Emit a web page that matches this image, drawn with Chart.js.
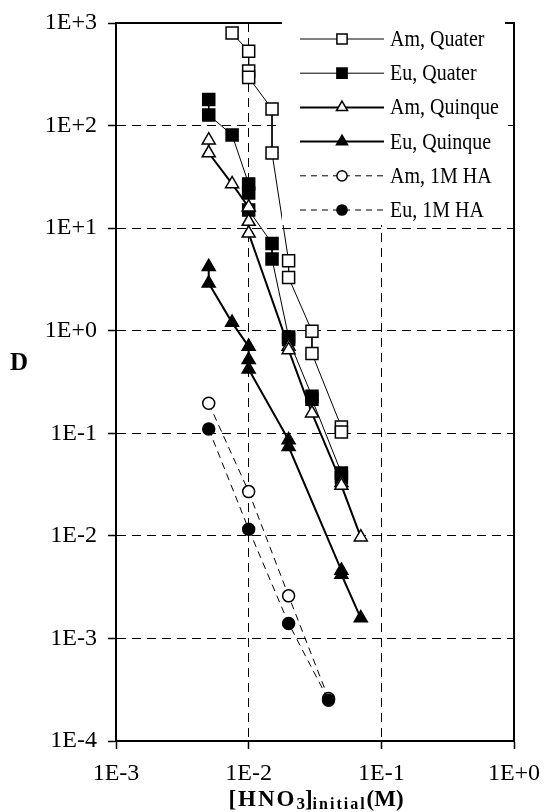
<!DOCTYPE html>
<html><head><meta charset="utf-8">
<script src="https://cdn.jsdelivr.net/npm/chart.js@4.4.1/dist/chart.umd.min.js"></script>
<style>html,body{margin:0;padding:0;background:#fff}canvas{display:block}</style>
</head><body>
<canvas id="c" width="544" height="812"></canvas>
<script>
// ---- data ----
const seriesNames = ['Am, Quater', 'Eu, Quater', 'Am, Quinque', 'Eu, Quinque', 'Am, 1M HA', 'Eu, 1M HA'];

const amQuaterX = [0.0075, 0.01, 0.01, 0.01, 0.015, 0.015, 0.02, 0.02, 0.03, 0.03, 0.05, 0.05];
const amQuaterY = [800, 530, 340, 295, 145, 54, 4.8, 3.3, 0.99, 0.6, 0.115, 0.103];

const euQuaterX = [0.005, 0.005, 0.0075, 0.01, 0.01, 0.01, 0.015, 0.015, 0.02, 0.02, 0.03, 0.03, 0.05, 0.05];
const euQuaterY = [180, 127, 81, 27, 22, 15, 7.1, 5.0, 0.87, 0.82, 0.23, 0.215, 0.041, 0.037];

const amQuinqueX = [0.005, 0.005, 0.0075, 0.01, 0.01, 0.01, 0.02, 0.02, 0.03, 0.05, 0.05, 0.07];
const amQuinqueY = [72, 54, 27, 16, 11.6, 8.9, 0.7, 0.65, 0.157, 0.033, 0.031, 0.0097];

const euQuinqueX = [0.005, 0.005, 0.0075, 0.01, 0.01, 0.01, 0.02, 0.02, 0.05, 0.05, 0.07];
const euQuinqueY = [4.2, 2.9, 1.2, 0.70, 0.52, 0.42, 0.086, 0.074, 0.0046, 0.0042, 0.00158];

const amHAX = [0.005, 0.01, 0.02, 0.04];
const amHAY = [0.196, 0.027, 0.0026, 0.00026];

const euHAX = [0.005, 0.01, 0.02, 0.04];
const euHAY = [0.11, 0.0116, 0.0014, 0.00025];

const xTickValues = [0.001, 0.01, 0.1, 1];
const xTickLabels = ['1E-3', '1E-2', '1E-1', '1E+0'];
const yTickValues = [1e-4, 1e-3, 1e-2, 1e-1, 1, 10, 100, 1000];
const yTickLabels = ['1E-4', '1E-3', '1E-2', '1E-1', '1E+0', '1E+1', '1E+2', '1E+3'];

const xTitle = ['[HNO', '3', ']', 'initial', '(M)'];
const yTitle = 'D';

// ---- build ----
function pts(xs, ys) { return xs.map((x, i) => ({ x: x, y: ys[i] })); }
const seriesData = [
  pts(amQuaterX, amQuaterY), pts(euQuaterX, euQuaterY),
  pts(amQuinqueX, amQuinqueY), pts(euQuinqueX, euQuinqueY),
  pts(amHAX, amHAY), pts(euHAX, euHAY)
];
const looks = [
  { ps: 'rect', fill: '#fff', r: 8.5, lw: 1, dash: [] },
  { ps: 'rect', fill: '#000', r: 8.5, lw: 1, dash: [] },
  { ps: 'triangle', fill: '#fff', r: 7.5, lw: 2, dash: [] },
  { ps: 'triangle', fill: '#000', r: 7.5, lw: 2, dash: [] },
  { ps: 'circle', fill: '#fff', r: 6, lw: 1, dash: [7, 5] },
  { ps: 'circle', fill: '#000', r: 6, lw: 1, dash: [7, 5] }
];

const datasets = seriesNames.map((name, i) => ({
  label: name,
  data: seriesData[i],
  borderColor: '#000',
  borderWidth: looks[i].lw,
  borderDash: looks[i].dash,
  backgroundColor: looks[i].fill,
  pointStyle: looks[i].ps,
  pointRadius: looks[i].r,
  pointBackgroundColor: looks[i].fill,
  pointBorderColor: '#000',
  pointBorderWidth: 1.5,
  tension: 0,
  fill: false,
  order: seriesNames.length - i
}));

const FONT = '"Liberation Serif", "Times New Roman", serif';

function drawMarker(ctx, style, fill, r, x, y) {
  ctx.save();
  ctx.setLineDash([]);
  ctx.beginPath();
  if (style === 'rect') {
    const s = r * Math.SQRT1_2;
    ctx.rect(x - s, y - s, 2 * s, 2 * s);
  } else if (style === 'triangle') {
    let a = 0;
    ctx.moveTo(x + Math.sin(a) * r, y - Math.cos(a) * r);
    a += 2 * Math.PI / 3;
    ctx.lineTo(x + Math.sin(a) * r, y - Math.cos(a) * r);
    a += 2 * Math.PI / 3;
    ctx.lineTo(x + Math.sin(a) * r, y - Math.cos(a) * r);
    ctx.closePath();
  } else {
    ctx.arc(x, y, r, 0, Math.PI * 2);
  }
  ctx.fillStyle = fill;
  ctx.fill();
  ctx.lineWidth = 1.5;
  ctx.strokeStyle = '#000';
  ctx.stroke();
  ctx.restore();
}

const decor = {
  id: 'decor',
  afterDatasetsDraw(chart) {
    const ctx = chart.ctx;
    const a = chart.chartArea;
    ctx.save();
    // legend box (white, covers grid and top frame)
    const bx = 282, by = 15, bw = 226, bh = 210;
    ctx.fillStyle = '#fff';
    ctx.fillRect(bx, by, bw, bh);
    // top and right frame (visible parts)
    ctx.strokeStyle = '#000';
    ctx.lineWidth = 2;
    ctx.setLineDash([]);
    ctx.beginPath();
    ctx.moveTo(a.left, a.top);
    ctx.lineTo(bx, a.top);
    ctx.moveTo(bx + bw - 3, a.top);
    ctx.lineTo(a.right, a.top);
    ctx.lineTo(a.right, a.bottom);
    ctx.stroke();
    const rowY0 = 39, rowStep = 34.2;
    const lx1 = 300, lx2 = 384, mx = 342, tx = 390;
    ctx.font = '20px ' + FONT;
    ctx.fillStyle = '#000';
    ctx.textAlign = 'left';
    ctx.textBaseline = 'middle';
    seriesNames.forEach((name, i) => {
      const y = rowY0 + i * rowStep;
      ctx.save();
      ctx.strokeStyle = '#000';
      ctx.lineWidth = looks[i].lw;
      ctx.setLineDash(looks[i].dash.length ? [6, 5] : []);
      ctx.beginPath();
      ctx.moveTo(lx1, y);
      ctx.lineTo(lx2, y);
      ctx.stroke();
      ctx.restore();
      drawMarker(ctx, looks[i].ps, looks[i].fill, looks[i].r * 0.85, mx, y);
      ctx.save();
      ctx.translate(tx, y + 1);
      ctx.scale(1, 1.15);
      ctx.fillStyle = '#000';
      ctx.fillText(name, 0, 0);
      ctx.restore();
    });
    ctx.restore();
  },
  afterDraw(chart) {
    const ctx = chart.ctx;
    ctx.save();
    ctx.fillStyle = '#000';
    // y title
    ctx.font = 'bold 25px ' + FONT;
    ctx.textAlign = 'center';
    ctx.textBaseline = 'middle';
    ctx.fillText(yTitle, 19, 364);
    // x title with subscripts
    const parts = [
      { t: xTitle[0], f: 'bold 23px ' + FONT, dy: 0, ls: 2 },
      { t: xTitle[1], f: 'bold 17px ' + FONT, dy: 3, ls: 0 },
      { t: xTitle[2], f: 'bold 23px ' + FONT, dy: 0, ls: 0 },
      { t: xTitle[3], f: 'bold 16px ' + FONT, dy: 3, ls: 2 },
      { t: xTitle[4], f: 'bold 23px ' + FONT, dy: 0, ls: 0 }
    ];
    let total = 0;
    parts.forEach(p => {
      ctx.font = p.f;
      p.w = 0;
      for (const ch of p.t) p.w += ctx.measureText(ch).width + p.ls;
      total += p.w;
    });
    let x = 316 - total / 2;
    const base = 806;
    ctx.textAlign = 'left';
    ctx.textBaseline = 'alphabetic';
    parts.forEach(p => {
      ctx.font = p.f;
      for (const ch of p.t) {
        ctx.fillText(ch, x, base + p.dy);
        x += ctx.measureText(ch).width + p.ls;
      }
    });
    ctx.restore();
  }
};

const tickFont = { family: FONT, size: 24 };

new Chart(document.getElementById('c'), {
  type: 'line',
  data: { datasets: datasets },
  plugins: [decor],
  options: {
    responsive: false,
    animation: false,
    devicePixelRatio: 1,
    layout: { padding: { top: 23, right: 30, left: 0, bottom: 0 } },
    plugins: { legend: { display: false }, tooltip: { enabled: false }, title: { display: false } },
    scales: {
      x: {
        type: 'logarithmic',
        position: 'bottom',
        min: 0.001, max: 1,
        afterBuildTicks: s => { s.ticks = xTickValues.map(v => ({ value: v })); },
        afterFit: s => { s.height = 71; s.paddingLeft = 0; s.paddingRight = 0; },
        ticks: {
          callback: (v, i) => xTickLabels[i],
          font: tickFont, color: '#000', padding: 10,
          maxRotation: 0, minRotation: 0, autoSkip: false
        },
        grid: { color: '#000', lineWidth: 1, tickLength: 8, tickColor: '#000', tickWidth: 1.5 },
        border: { display: true, color: '#000', width: 2, dash: [9, 6] }
      },
      y: {
        type: 'logarithmic',
        position: 'left',
        min: 1e-4, max: 1000,
        afterBuildTicks: s => { s.ticks = yTickValues.map(v => ({ value: v })); },
        afterFit: s => { s.width = 116; s.paddingTop = 0; s.paddingBottom = 0; },
        ticks: {
          callback: (v, i) => yTickLabels[i],
          font: tickFont, color: '#000', padding: 11, autoSkip: false
        },
        grid: { color: '#000', lineWidth: 1, tickLength: 8, tickColor: '#000', tickWidth: 1.5 },
        border: { display: true, color: '#000', width: 2, dash: [9, 6] }
      }
    }
  }
});
</script>
</body></html>
